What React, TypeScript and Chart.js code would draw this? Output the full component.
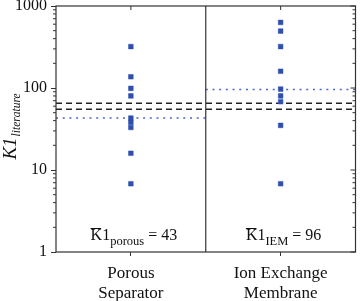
import React, { useEffect, useRef } from "react";
import { Chart, registerables } from "chart.js";

Chart.register(...registerables);

const categories = ["Porous Separator", "Ion Exchange Membrane"];
const categoryLines = [["Porous", "Separator"], ["Ion Exchange", "Membrane"]];
const porousK1 = [320, 137, 99, 80, 43, 38, 33, 16, 6.8];
const iemK1 = [630, 495, 320, 160, 97, 80, 68, 35, 6.8];
const referenceLines = [65, 55];
const groupMeans = [43, 96];
const meanSubscripts = ["porous", "IEM"];
const yTicks = [1, 10, 100, 1000];

const SERIF = "'Liberation Serif', 'Times New Roman', serif";
const INK = "#222";
const MARKER = "#2f4fae";
const MEAN_LINE = "#4a66cc";

const decorations = {
  id: "decorations",
  beforeDatasetsDraw(chart: any) {
    const { ctx, chartArea: a, scales } = chart;
    const x = scales.x;
    const y = scales.y;
    const mid = (x.getPixelForValue(0) + x.getPixelForValue(1)) / 2;
    ctx.save();
    // dashed reference lines across the whole plot
    ctx.strokeStyle = INK;
    ctx.lineWidth = 1.5;
    ctx.setLineDash([6, 4]);
    referenceLines.forEach((v) => {
      const py = y.getPixelForValue(v);
      ctx.beginPath();
      ctx.moveTo(a.left, py);
      ctx.lineTo(a.right, py);
      ctx.stroke();
    });
    // dotted group means, one per panel
    ctx.strokeStyle = MEAN_LINE;
    ctx.lineWidth = 1.6;
    ctx.setLineDash([2, 4.7]);
    groupMeans.forEach((v, i) => {
      const py = y.getPixelForValue(v);
      ctx.beginPath();
      ctx.moveTo(i === 0 ? a.left : mid, py);
      ctx.lineTo(i === 0 ? mid : a.right, py);
      ctx.stroke();
    });
    ctx.restore();
  },
  afterDraw(chart: any) {
    const { ctx, chartArea: a, scales } = chart;
    const x = scales.x;
    const y = scales.y;
    const mid = (x.getPixelForValue(0) + x.getPixelForValue(1)) / 2;
    ctx.save();
    ctx.strokeStyle = "#333";
    ctx.lineWidth = 1.2;
    ctx.setLineDash([]);
    // frame and panel divider
    ctx.strokeRect(a.left, a.top, a.right - a.left, a.bottom - a.top);
    ctx.beginPath();
    ctx.moveTo(mid, a.top);
    ctx.lineTo(mid, a.bottom);
    ctx.stroke();
    // minor log ticks on left (outward) and right (inward)
    ctx.lineWidth = 1;
    for (let d = 1; d < 1000; d *= 10) {
      for (let k = 2; k <= 9; k++) {
        const py = y.getPixelForValue(d * k);
        ctx.beginPath();
        ctx.moveTo(a.left - 3, py);
        ctx.lineTo(a.left, py);
        ctx.moveTo(a.right - 3, py);
        ctx.lineTo(a.right, py);
        ctx.stroke();
      }
    }
    yTicks.forEach((v) => {
      const py = y.getPixelForValue(v);
      ctx.beginPath();
      ctx.moveTo(a.right - 5, py);
      ctx.lineTo(a.right, py);
      ctx.stroke();
    });
    // top category ticks
    [0, 1].forEach((i) => {
      const px = x.getPixelForValue(i);
      ctx.beginPath();
      ctx.moveTo(px, a.top);
      ctx.lineTo(px, a.top + 4);
      ctx.stroke();
    });

    // y axis title: K1 with italic subscript, rotated
    ctx.fillStyle = "#111";
    ctx.translate(16, (a.top + a.bottom) / 2 - 2);
    ctx.rotate(-Math.PI / 2);
    ctx.font = `italic 19px ${SERIF}`;
    const main = "K1";
    const wMain = ctx.measureText(main).width;
    ctx.font = `italic 11.5px ${SERIF}`;
    const sub = "literature";
    const wSub = ctx.measureText(sub).width;
    const start = -(wMain + wSub) / 2;
    ctx.textBaseline = "alphabetic";
    ctx.textAlign = "left";
    ctx.font = `italic 19px ${SERIF}`;
    ctx.fillText(main, start, 0);
    ctx.font = `italic 11.5px ${SERIF}`;
    ctx.fillText(sub, start + wMain + 1, 4);
    ctx.setTransform(1, 0, 0, 1, 0, 0);

    // group mean annotations
    groupMeans.forEach((v, i) => {
      const cx = x.getPixelForValue(i) + 3;
      const base = a.bottom - 12;
      ctx.font = `16px ${SERIF}`;
      const wK = ctx.measureText("K").width;
      const w1 = ctx.measureText("1").width;
      const tail = ` = ${v}`;
      const wTail = ctx.measureText(tail).width;
      ctx.font = `12.5px ${SERIF}`;
      const wS = ctx.measureText(meanSubscripts[i]).width;
      let px = cx - (wK + w1 + wS + wTail) / 2;
      ctx.fillStyle = "#111";
      ctx.font = `16px ${SERIF}`;
      ctx.fillText("K", px, base);
      ctx.strokeStyle = "#111";
      ctx.lineWidth = 1;
      ctx.beginPath();
      ctx.moveTo(px, base - 11.5);
      ctx.lineTo(px + wK - 1, base - 11.5);
      ctx.stroke();
      px += wK;
      ctx.fillText("1", px, base);
      px += w1;
      ctx.font = `12.5px ${SERIF}`;
      ctx.fillText(meanSubscripts[i], px, base + 5);
      px += wS;
      ctx.font = `16px ${SERIF}`;
      ctx.fillText(tail, px, base);
    });
    ctx.restore();
  },
};

export default function App() {
  const ref = useRef<HTMLCanvasElement>(null);
  useEffect(() => {
    document.body.style.margin = "0";
    const dataset = (vals: number[], idx: number) => ({
      data: vals.map((v) => ({ x: categories[idx], y: v })),
      showLine: false,
      pointStyle: "rect" as const,
      pointRadius: 3.3,
      pointBorderWidth: 0.5,
      pointBackgroundColor: MARKER,
      pointBorderColor: MARKER,
    });
    const chart = new Chart(ref.current!, {
      type: "line",
      data: {
        labels: categories,
        datasets: [dataset(porousK1, 0), dataset(iemK1, 1)],
      },
      options: {
        animation: false,
        responsive: false,
        maintainAspectRatio: false,
        layout: { padding: { top: 6, right: 3, left: 0, bottom: 0 } },
        plugins: { legend: { display: false }, tooltip: { enabled: false } },
        scales: {
          x: {
            type: "category",
            offset: true,
            border: { display: false },
            grid: { offset: false, drawOnChartArea: false, tickLength: 4, color: "#333" },
            ticks: {
              font: { family: SERIF, size: 17 },
              color: "#111",
              padding: 7,
              maxRotation: 0,
              autoSkip: false,
              callback: (_v: any, i: number) => categoryLines[i],
            },
            afterFit: (s: any) => {
              s.height = 49;
              s.paddingLeft = 0;
              s.paddingRight = 0;
            },
          },
          y: {
            type: "logarithmic",
            min: 1,
            max: 1000,
            border: { display: false },
            grid: { drawOnChartArea: false, tickLength: 5, color: "#333" },
            ticks: {
              font: { family: SERIF, size: 16 },
              color: "#111",
              padding: 4,
              callback: (v: any) => String(v),
            },
            afterBuildTicks: (s: any) => { s.ticks = yTicks.map((v) => ({ value: v })); },
            afterFit: (s: any) => {
              s.width = 56;
              s.paddingTop = 0;
              s.paddingBottom = 0;
            },
          },
        },
      },
      plugins: [decorations],
    });
    return () => chart.destroy();
  }, []);
  return <canvas ref={ref} width={360} height={301} style={{ display: "block" }} />;
}
